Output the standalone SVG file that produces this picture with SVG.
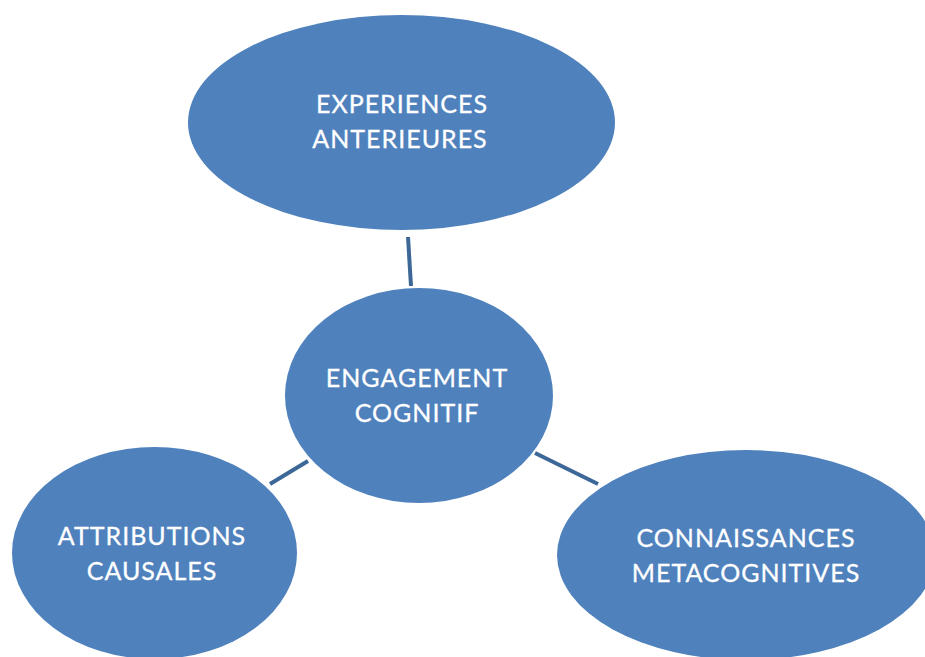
<svg xmlns="http://www.w3.org/2000/svg" width="925" height="657" viewBox="0 0 925 657">
<style>
.node{fill:#4f81bd;}
.lbl{fill:#ffffff;font-family:Lato,"Open Sans","Liberation Sans",sans-serif;font-size:25px;letter-spacing:1px;text-anchor:middle;stroke:#ffffff;stroke-width:0.3;}
.edge{stroke:#3d6796;stroke-width:4;fill:none;}
</style>
<rect width="925" height="657" fill="#ffffff"/>
<g id="connectors">
<line class="edge" x1="408" y1="237" x2="411" y2="286"/>
<line class="edge" x1="270" y1="484" x2="308" y2="461"/>
<line class="edge" x1="535" y1="453" x2="598" y2="484"/>
</g>
<g id="experiences">
<ellipse class="node" cx="401.5" cy="122.5" rx="213.5" ry="107.5"/>
<text class="lbl" x="402" y="113">EXPERIENCES</text>
<text class="lbl" x="400" y="148">ANTERIEURES</text>
</g>
<g id="engagement">
<ellipse class="node" cx="419" cy="395.5" rx="134" ry="107.5"/>
<text class="lbl" x="417" y="387">ENGAGEMENT</text>
<text class="lbl" x="417" y="422">COGNITIF</text>
</g>
<g id="attributions">
<ellipse class="node" cx="154.5" cy="553" rx="142.5" ry="106"/>
<text class="lbl" x="152" y="545">ATTRIBUTIONS</text>
<text class="lbl" x="152" y="580">CAUSALES</text>
</g>
<g id="connaissances">
<ellipse class="node" cx="746" cy="555" rx="189" ry="105"/>
<text class="lbl" x="746" y="547">CONNAISSANCES</text>
<text class="lbl" x="746" y="582">METACOGNITIVES</text>
</g>
</svg>
